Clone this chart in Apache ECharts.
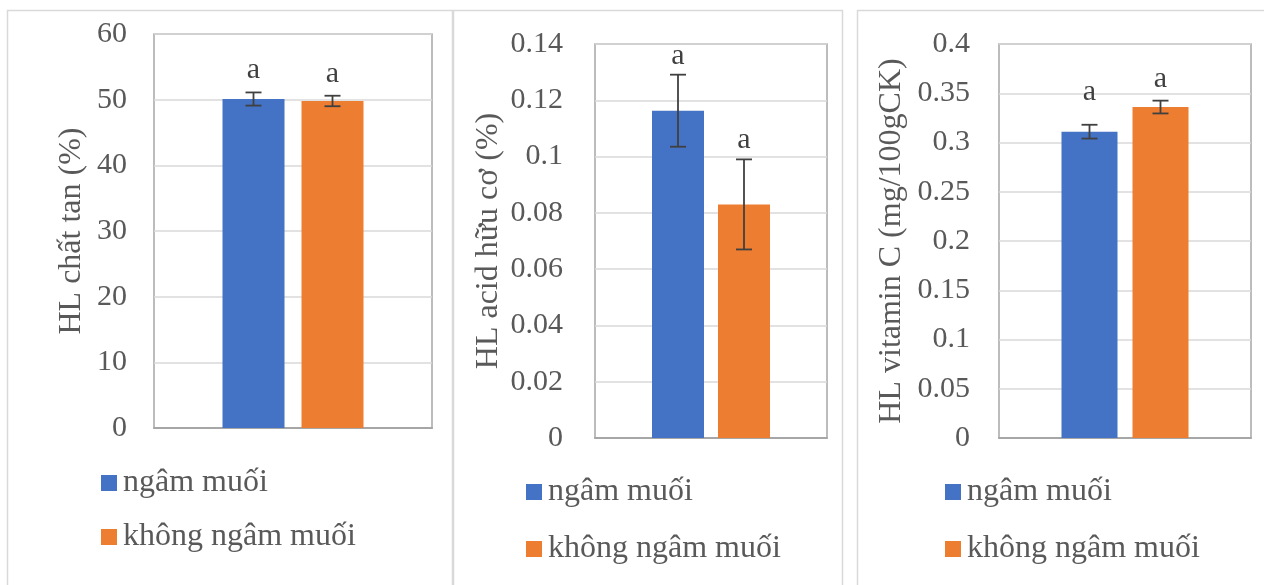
<!DOCTYPE html>
<html>
<head>
<meta charset="utf-8">
<script src="https://cdn.jsdelivr.net/npm/echarts@6/dist/echarts.min.js"></script>
<style>
  html, body { margin: 0; padding: 0; background: #ffffff; }
  #chart { width: 1264px; height: 585px; }
</style>
</head>
<body>
<div id="chart"></div>
<script>
// Treatments shown in every panel
const seriesNames = ['ngâm muối', 'không ngâm muối'];
const seriesColors = ['#4472C4', '#ED7D31'];

// Panel 1: soluble solids (%)
const solubleMean = [50.1, 49.8];
const solubleErr = [1.0, 0.8];
const solubleLetters = ['a', 'a'];
const solubleTicks = [0, 10, 20, 30, 40, 50, 60];

// Panel 2: organic acid (%)
const acidMean = [0.1163, 0.083];
const acidErr = [0.0128, 0.016];
const acidLetters = ['a', 'a'];
const acidTicks = [0, 0.02, 0.04, 0.06, 0.08, 0.1, 0.12, 0.14];

// Panel 3: vitamin C (mg/100gCK)
const vitCMean = [0.311, 0.336];
const vitCErr = [0.007, 0.0065];
const vitCLetters = ['a', 'a'];
const vitCTicks = [0, 0.05, 0.1, 0.15, 0.2, 0.25, 0.3, 0.35, 0.4];

const axisTitles = ['HL chất tan (%)', 'HL acid hữu cơ (%)', 'HL vitamin C (mg/100gCK)'];

const panels = [
  { means: solubleMean, errs: solubleErr, letters: solubleLetters, ticks: solubleTicks, title: axisTitles[0] },
  { means: acidMean, errs: acidErr, letters: acidLetters, ticks: acidTicks, title: axisTitles[1] },
  { means: vitCMean, errs: vitCErr, letters: vitCLetters, ticks: vitCTicks, title: axisTitles[2] }
];

// Layout of each panel on the page
const layout = [
  { grid: { left: 154, top: 34, width: 278, height: 394 }, barWidth: 62, gap: 17, labelMargin: 27, nameGap: 66,
    legend: { left: 101, top: 467, gap: 22 }, frame: { x: 7, y: 10, w: 445 }, lift: [22, 22] },
  { grid: { left: 595, top: 44, width: 232, height: 394 }, barWidth: 52, gap: 14, labelMargin: 32, nameGap: 90,
    legend: { left: 526, top: 476, gap: 25 }, frame: { x: 453, y: 10, w: 389 }, lift: [19, 19] },
  { grid: { left: 999, top: 44, width: 252, height: 394 }, barWidth: 56, gap: 15, labelMargin: 29, nameGap: 91,
    legend: { left: 945, top: 476, gap: 25 }, frame: { x: 857, y: 10, w: 420 }, lift: [33, 22] }
];

const FONT = "'Liberation Serif', 'Times New Roman', serif";
const TEXT_GREY = '#595959';

const grids = [], xAxes = [], yAxes = [], legends = [], series = [], frames = [];

panels.forEach((p, pi) => {
  const L = layout[pi];
  const ticks = p.ticks;
  grids.push(Object.assign({ show: true, borderColor: '#a6a6a6', borderWidth: 1.5, backgroundColor: '#ffffff' }, L.grid));

  xAxes.push({
    type: 'category', gridIndex: pi, data: [''],
    axisLine: { show: true, lineStyle: { color: '#a6a6a6', width: 2 } },
    axisTick: { show: false }, axisLabel: { show: false }, splitLine: { show: false }
  });

  yAxes.push({
    type: 'value', gridIndex: pi,
    min: ticks[0], max: ticks[ticks.length - 1], interval: ticks[1] - ticks[0],
    axisLine: { show: false }, axisTick: { show: false },
    axisLabel: { color: TEXT_GREY, fontFamily: FONT, fontSize: 30, margin: L.labelMargin },
    splitLine: { show: true, lineStyle: { color: '#d9d9d9', width: 1.5 } },
    name: p.title, nameLocation: 'middle', nameGap: L.nameGap,
    nameTextStyle: { color: TEXT_GREY, fontFamily: FONT, fontSize: 32 }
  });

  legends.push({
    data: seriesNames, orient: 'vertical', left: L.legend.left, top: L.legend.top,
    itemWidth: 16, itemHeight: 16, itemGap: L.legend.gap, padding: 0, icon: 'rect',
    selectedMode: false, height: 120,
    textStyle: { color: TEXT_GREY, fontFamily: FONT, fontSize: 32, padding: [6, 0, 0, 1] }
  });

  seriesNames.forEach((name, si) => {
    series.push({
      type: 'bar', name: name, xAxisIndex: pi, yAxisIndex: pi,
      data: [p.means[si]], barWidth: L.barWidth, barGap: (L.gap / L.barWidth * 100) + '%',
      itemStyle: { color: seriesColors[si] }, z: 2
    });
  });

  // Error bars and significance letters
  const step = L.barWidth + L.gap;
  series.push({
    type: 'custom', xAxisIndex: pi, yAxisIndex: pi, z: 5, clip: false,
    data: p.means.map((m, i) => [0, m, p.errs[i], i]),
    encode: { x: 0, y: 1 },
    renderItem: function (params, api) {
      const i = api.value(3);
      const m = api.value(1), e = api.value(2);
      const c = api.coord([api.value(0), m]);
      const x = c[0] + (i - 0.5) * step;
      const yTop = api.coord([0, m + e])[1];
      const yBot = api.coord([0, m - e])[1];
      const cap = 8;
      const ls = { stroke: '#404040', lineWidth: 1.8 };
      return {
        type: 'group',
        children: [
          { type: 'line', shape: { x1: x, y1: yTop, x2: x, y2: yBot }, style: ls },
          { type: 'line', shape: { x1: x - cap, y1: yTop, x2: x + cap, y2: yTop }, style: ls },
          { type: 'line', shape: { x1: x - cap, y1: yBot, x2: x + cap, y2: yBot }, style: ls },
          { type: 'text', x: x, y: yTop - L.lift[i],
            style: { text: p.letters[i], fill: '#404040', font: '30px ' + FONT, align: 'center', verticalAlign: 'middle' } }
        ]
      };
    }
  });

  frames.push({
    type: 'rect', z: -10, silent: true,
    shape: { x: L.frame.x + 0.5, y: L.frame.y + 0.5, width: L.frame.w, height: 700 },
    style: { fill: 'none', stroke: '#d9d9d9', lineWidth: 1.5 }
  });
});

const chart = echarts.init(document.getElementById('chart'), null, { renderer: 'canvas' });
chart.setOption({
  animation: false,
  backgroundColor: '#ffffff',
  grid: grids,
  xAxis: xAxes,
  yAxis: yAxes,
  legend: legends,
  series: series,
  graphic: frames
});
</script>
</body>
</html>
